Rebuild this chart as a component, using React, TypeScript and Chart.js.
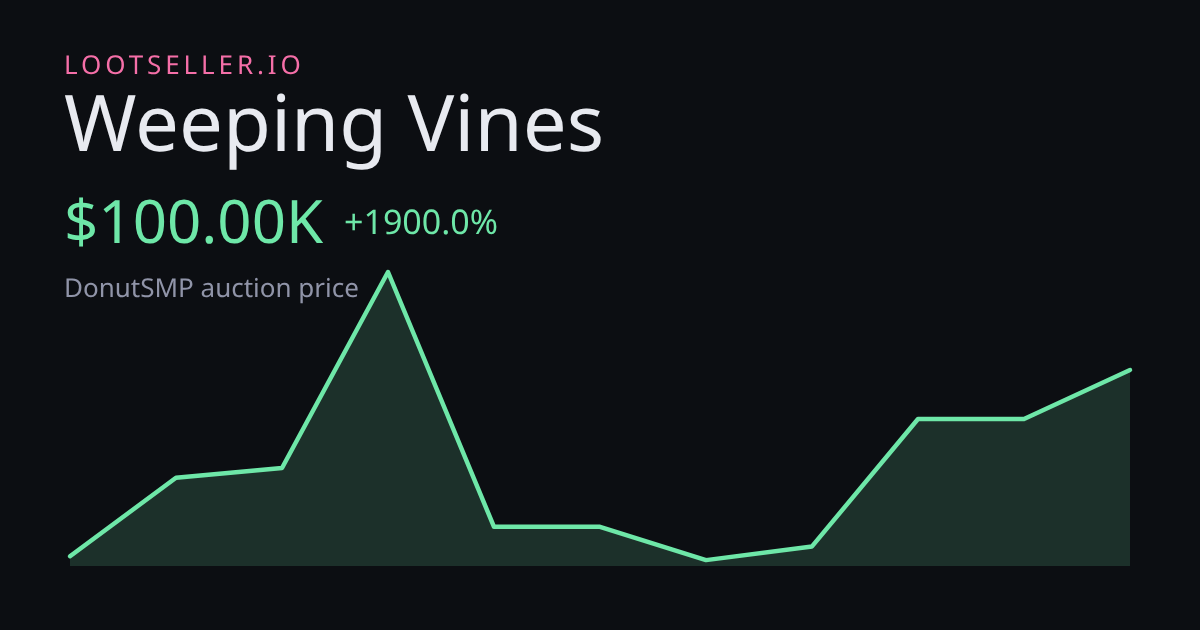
import React, { useEffect, useRef } from "react";
import { Chart, registerables } from "chart.js";

Chart.register(...registerables);

const days = ["1", "2", "3", "4", "5", "6", "7", "8", "9", "10", "11"];
const prices = [5000, 45000, 50000, 150000, 20000, 20000, 3000, 10000, 75000, 75000, 100000];
const brand = "LOOTSELLER.IO";
const itemName = "Weeping Vines";
const priceLabel = "$100.00K";
const changeLabel = "+1900.0%";
const subtitle = "DonutSMP auction price";

const FONT = '"Noto Sans", sans-serif';
const GREEN = "#6ee7a8";
const BG = "#0c0e12";

const textStyle = (
  left: number,
  top: number,
  size: number,
  color: string,
  extra: React.CSSProperties = {}
): React.CSSProperties => ({
  position: "absolute",
  left,
  top,
  fontFamily: FONT,
  fontSize: size,
  lineHeight: `${size}px`,
  color,
  whiteSpace: "nowrap",
  textRendering: "geometricPrecision",
  ...extra,
});

export default function App() {
  const ref = useRef<HTMLCanvasElement>(null);

  useEffect(() => {
    document.body.style.margin = "0";
    document.body.style.background = BG;
    const chart = new Chart(ref.current!, {
      type: "line",
      data: {
        labels: days,
        datasets: [
          {
            data: prices,
            borderColor: GREEN,
            borderWidth: 4.5,
            borderCapStyle: "round",
            borderJoinStyle: "round",
            backgroundColor: "rgba(110,231,168,0.16)",
            fill: "origin",
            pointRadius: 0,
            tension: 0,
            clip: false,
          },
        ],
      },
      options: {
        animation: false,
        responsive: false,
        devicePixelRatio: 1,
        layout: { padding: { left: 70, right: 70, top: 272, bottom: 64 } },
        plugins: { legend: { display: false }, tooltip: { enabled: false }, title: { display: false } },
        scales: {
          x: { display: false, offset: false },
          y: { display: false, min: 0, max: 150000 },
        },
      },
    });
    return () => chart.destroy();
  }, []);

  return (
    <div style={{ position: "relative", width: 1200, height: 630, background: BG, overflow: "hidden" }}>
      <canvas ref={ref} width={1200} height={630} style={{ position: "absolute", left: 0, top: 0, width: 1200, height: 630 }} />
      <div style={textStyle(64, 51, 26, "#f56fa8", { letterSpacing: "3.9px" })}>{brand}</div>
      <div style={textStyle(64, 82, 78, "#e8eaf0")}>{itemName}</div>
      <div style={textStyle(64, 190, 60, GREEN)}>{priceLabel}</div>
      <div style={textStyle(344, 204, 34, GREEN)}>{changeLabel}</div>
      <div style={textStyle(64, 274, 26, "#9094a8")}>{subtitle}</div>
    </div>
  );
}
